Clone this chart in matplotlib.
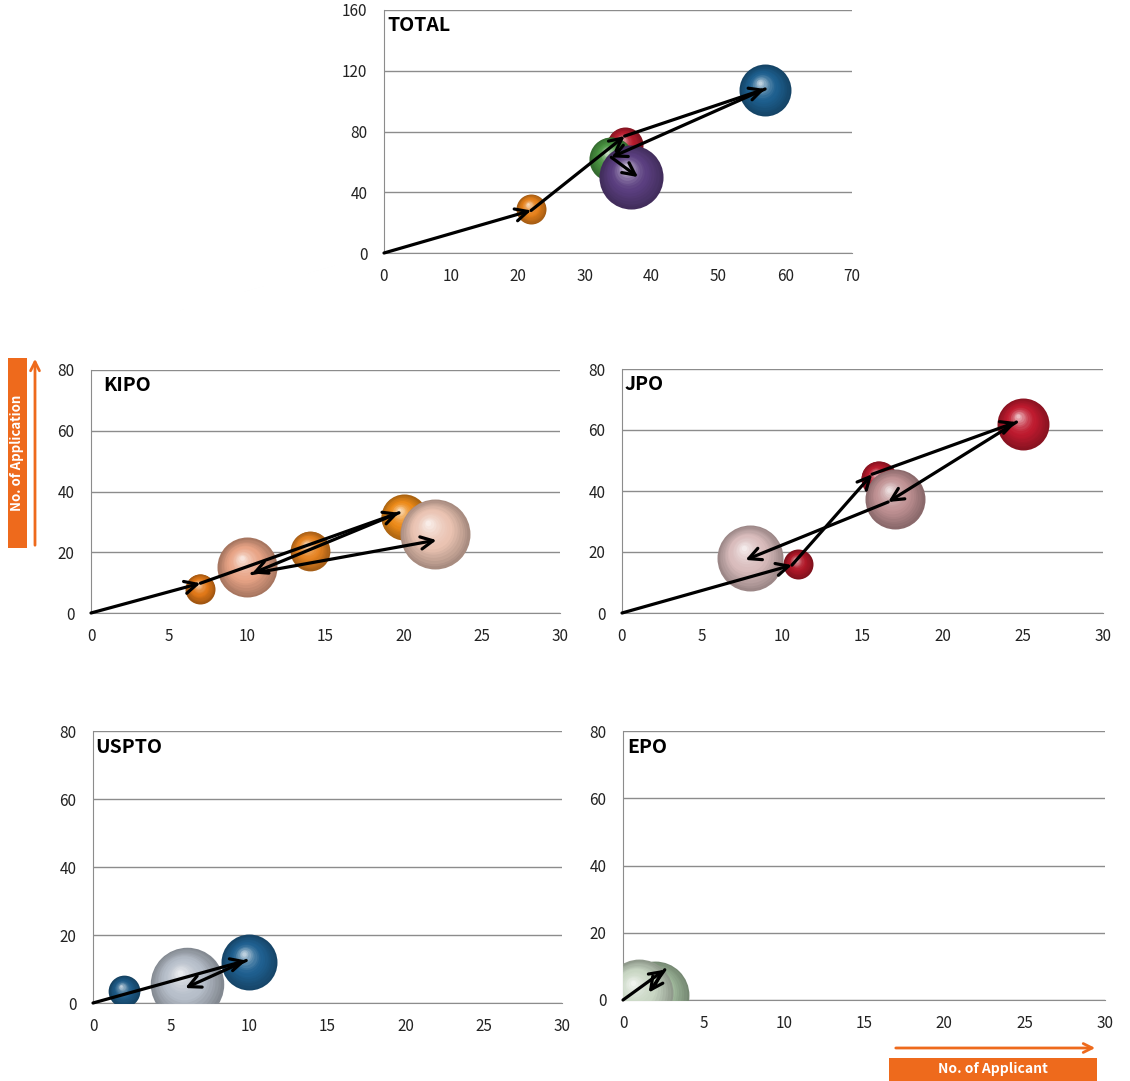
import matplotlib
matplotlib.use('Agg')
import matplotlib.pyplot as plt
import matplotlib.transforms as mtransforms
from matplotlib.colors import to_rgb
from matplotlib.patches import Rectangle, FancyArrowPatch
import numpy as np

plt.rcParams['font.family'] = ['Noto Sans CJK KR', 'DejaVu Sans']

W, H, DPI = 1130, 1081, 100

# ---- data (x = no. of applicants, y = no. of applications, size = bubble value)
total_x = [22, 36, 57, 34, 37]
total_y = [29, 71, 107, 62, 50]
total_size = [25, 36, 75, 54, 114]
total_colors = ['#E5801A', '#B81C2E', '#1D5F8E', '#4A9442', '#5B3F80']
total_path_x = [0, 22, 36, 57, 34, 38]
total_path_y = [0, 28, 77, 108, 63, 50]

kipo_x = [7, 10, 14, 20, 22]
kipo_y = [8, 15, 20.5, 31.5, 26]
kipo_size = [25, 100, 44, 59, 136]
kipo_colors = ['#E07818', '#E8A486', '#E58220', '#EC8A18', '#EAC3B2']
kipo_path_x = [0, 7, 19.7, 10.3, 22.1]
kipo_path_y = [0, 9.8, 33, 13, 24]

jpo_x = [8, 11, 16, 17, 25]
jpo_y = [18, 16, 44, 37.5, 62]
jpo_size = [121, 25, 36, 100, 75]
jpo_colors = ['#D9BCBC', '#B01828', '#B81A2C', '#C09294', '#BE1A2E']
jpo_path_x = [0, 10.6, 15.6, 24.6, 16.6, 7.7]
jpo_path_y = [0, 15.7, 45.5, 62.6, 36.4, 17.4]

uspto_x = [2, 6, 10]
uspto_y = [3.5, 5.6, 12]
uspto_size = [28, 150, 87]
uspto_colors = ['#1D5A86', '#B6BEC9', '#1F6090']
uspto_path_x = [0, 9.8, 5.9]
uspto_path_y = [0, 12.5, 4.4]

epo_x = [2, 1]
epo_y = [1.5, 2]
epo_size = [128, 128]
epo_colors = ['#A4BEA0', '#C8D6C3']
epo_path_x = [0, 2.6, 1.6]
epo_path_y = [0, 9, 2.2]

fig = plt.figure(figsize=(W / DPI, H / DPI), dpi=DPI)


def add_ax(left, top, right, bottom):
    return fig.add_axes([left / W, 1 - bottom / H, (right - left) / W, (bottom - top) / H])


def sphere(ax, x, y, r, color, z):
    base = np.array(to_rgb(color))
    n = 16
    for i in range(n):
        t = i / (n - 1)
        rad = r * (1 - 0.92 * t)
        off = r * 0.38 * t
        if t < 0.45:
            c = base * (0.72 + 0.28 * t / 0.45)
        else:
            k = (t - 0.45) / 0.55
            c = base + (1 - base) * 0.7 * k ** 1.6
        tr = mtransforms.offset_copy(ax.transData, fig=fig, x=-off * 0.5, y=off * 0.8, units='dots')
        ax.scatter([x], [y], s=(2 * rad * 72 / DPI) ** 2, color=np.clip(c, 0, 1),
                   transform=tr, linewidths=0, zorder=z + i * 0.001)


def panel(ax, name, xs, ys, sizes, colors, px, py, xmax, xstep, ymax, ystep, tx):
    ax.set_xlim(0, xmax)
    ax.set_ylim(0, ymax)
    ax.set_xticks(np.arange(0, xmax + 1, xstep))
    ax.set_yticks(np.arange(0, ymax + 1, ystep))
    ax.grid(axis='y', color='#8c8c8c', lw=1)
    ax.set_axisbelow(True)
    for s in ['top', 'right']:
        ax.spines[s].set_visible(False)
    for s in ['left', 'bottom']:
        ax.spines[s].set_color('#8c8c8c')
    ax.tick_params(length=0, labelsize=11, colors='#222222')
    ax.tick_params(axis='x', pad=11)
    ax.tick_params(axis='y', pad=12)
    for i in range(len(xs)):
        sphere(ax, xs[i], ys[i], 3 * np.sqrt(sizes[i]), colors[i], 3 + i * 0.1)
    for i in range(len(px) - 1):
        ax.annotate('', xy=(px[i + 1], py[i + 1]), xytext=(px[i], py[i]),
                    arrowprops=dict(arrowstyle='->', color='black', lw=2.3,
                                    mutation_scale=22, shrinkA=0, shrinkB=0),
                    zorder=10, annotation_clip=False)
    ax.text(tx, 0.975, name, transform=ax.transAxes, ha='left', va='top',
            fontsize=14, fontweight='bold', zorder=11)


ax_total = add_ax(384, 10, 852, 253)
panel(ax_total, 'TOTAL', total_x, total_y, total_size, total_colors,
      total_path_x, total_path_y, 70, 10, 160, 40, 0.008)

ax_kipo = add_ax(91, 370, 560, 613)
panel(ax_kipo, 'KIPO', kipo_x, kipo_y, kipo_size, kipo_colors,
      kipo_path_x, kipo_path_y, 30, 5, 80, 20, 0.027)

ax_jpo = add_ax(622, 369, 1103, 613)
panel(ax_jpo, 'JPO', jpo_x, jpo_y, jpo_size, jpo_colors,
      jpo_path_x, jpo_path_y, 30, 5, 80, 20, 0.005)

ax_us = add_ax(93, 731, 562, 1003)
panel(ax_us, 'USPTO', uspto_x, uspto_y, uspto_size, uspto_colors,
      uspto_path_x, uspto_path_y, 30, 5, 80, 20, 0.004)

ax_epo = add_ax(623, 731, 1105, 1000)
panel(ax_epo, 'EPO', epo_x, epo_y, epo_size, epo_colors,
      epo_path_x, epo_path_y, 30, 5, 80, 20, 0.008)

# ---- orange axis captions
ORANGE = '#EE6A1C'


def fx(p):
    return p / W


def fy(p):
    return 1 - p / H


fig.add_artist(Rectangle((fx(8), fy(548)), 19 / W, 190 / H, transform=fig.transFigure,
                         facecolor=ORANGE, edgecolor='none'))
fig.text(fx(17.5), fy(453), 'No. of Application', rotation=90, ha='center', va='center',
         color='white', fontsize=9.5, fontweight='bold')
fig.add_artist(FancyArrowPatch((fx(35), fy(548)), (fx(35), fy(356)), transform=fig.transFigure,
                               arrowstyle='->', mutation_scale=16, color=ORANGE, lw=2))

fig.add_artist(Rectangle((fx(889), fy(1081)), 208 / W, 23 / H, transform=fig.transFigure,
                         facecolor=ORANGE, edgecolor='none'))
fig.text(fx(993), fy(1069), 'No. of Applicant', ha='center', va='center',
         color='white', fontsize=10, fontweight='bold')
fig.add_artist(FancyArrowPatch((fx(893), fy(1048)), (fx(1098), fy(1048)), transform=fig.transFigure,
                               arrowstyle='->', mutation_scale=16, color=ORANGE, lw=2))

fig.savefig('out.png', dpi=DPI)
